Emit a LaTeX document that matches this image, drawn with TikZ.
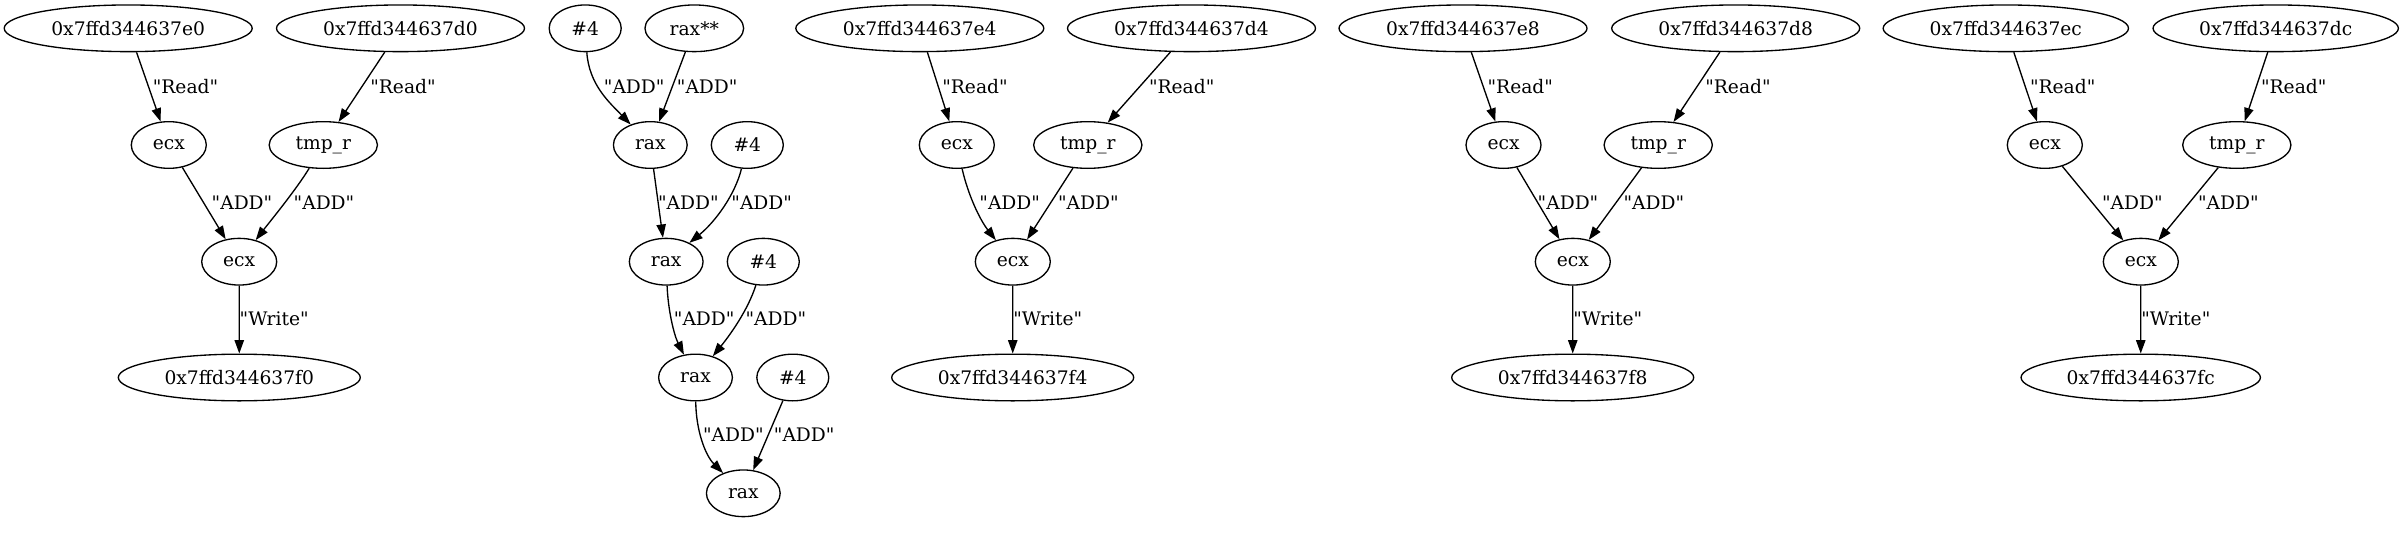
\documentclass[tikz,border=0pt]{standalone}
\usepackage{fontspec}
\setmainfont{DejaVu Serif}[Ligatures=TeXOff]
\usetikzlibrary{shapes.geometric,arrows.meta}
\begin{document}
\begin{tikzpicture}[x=0.75pt,y=-0.75pt,
  every node/.style={font=\fontsize{14pt}{16pt}\selectfont},
  nd/.style={draw,ellipse,inner sep=0pt,minimum height=35pt,line width=1pt},
  addr/.style={nd,minimum width=186pt},
  addrc/.style={nd,minimum width=184pt},
  outa/.style={nd,minimum width=181.5pt},
  outc/.style={nd,minimum width=179.5pt},
  ecxn/.style={nd,minimum width=56.25pt},
  raxn/.style={nd,minimum width=55.3pt},
  imm/.style={nd,minimum width=54pt},
  tmpn/.style={nd,minimum width=81.2pt},
  raxs/.style={nd,minimum width=74pt},
  conn/.style={line width=1pt,-{Triangle[length=10pt,width=7pt]}},
  lbl/.style={draw=none,inner sep=0pt}]
\useasboundingbox (0,0) rectangle (2404,535);
% ---- group 1
\node[addr] (a1) at (128.2,28.3) {0x7ffd344637e0};
\node[addr] (b1) at (400.5,28.3) {0x7ffd344637d0};
\node[ecxn] (e1) at (168.8,145) {ecx};
\node[tmpn] (t1) at (323.3,145) {tmp\_r};
\node[ecxn] (f1) at (239.2,261.7) {ecx};
\node[outa] (o1) at (239.3,377.5) {0x7ffd344637f0};
% ---- group 2
\node[imm] (h1) at (585.2,28.3) {\#4};
\node[raxs] (rs) at (694.3,28.3) {rax**};
\node[raxn] (r1) at (650.3,145) {rax};
\node[imm] (h2) at (747.3,145) {\#4};
\node[raxn] (r2) at (666.2,261.7) {rax};
\node[imm] (h3) at (763.3,261.7) {\#4};
\node[raxn] (r3) at (695.5,377.5) {rax};
\node[imm] (h4) at (792.8,377.5) {\#4};
\node[raxn] (r4) at (743.3,493.3) {rax};
% ---- group 3
\node[addr] (a2) at (919.8,28.3) {0x7ffd344637e4};
\node[addr] (b2) at (1191.5,28.3) {0x7ffd344637d4};
\node[ecxn] (e2) at (956.8,145) {ecx};
\node[tmpn] (t2) at (1087.8,145) {tmp\_r};
\node[ecxn] (f2) at (1012.8,261.7) {ecx};
\node[outa] (o2) at (1012.7,377.5) {0x7ffd344637f4};
% ---- group 4
\node[addr] (a3) at (1463,28.3) {0x7ffd344637e8};
\node[addr] (b3) at (1735.7,28.3) {0x7ffd344637d8};
\node[ecxn] (e3) at (1503.5,145) {ecx};
\node[tmpn] (t3) at (1658.2,145) {tmp\_r};
\node[ecxn] (f3) at (1572.8,261.7) {ecx};
\node[outa] (o3) at (1572.7,377.5) {0x7ffd344637f8};
% ---- group 5
\node[addrc] (a4) at (2005.8,28.3) {0x7ffd344637ec};
\node[addrc] (b4) at (2275.7,28.3) {0x7ffd344637dc};
\node[ecxn] (e4) at (2044.8,145) {ecx};
\node[tmpn] (t4) at (2236.8,145) {tmp\_r};
\node[ecxn] (f4) at (2140.8,261.7) {ecx};
\node[outc] (o4) at (2140.7,377.5) {0x7ffd344637fc};

% ---- edges group 1
\draw[conn] (a1) -- (e1) node[lbl] at (185.5,86.7) {"Read"};
\draw[conn] (b1) -- (t1) node[lbl] at (403,86.7) {"Read"};
\draw[conn] (e1) -- (f1) node[lbl] at (242,202.3) {"ADD"};
\draw[conn] (t1) .. controls (296,190) and (268,224) .. (f1) node[lbl] at (324,202.3) {"ADD"};
\draw[conn] (f1) -- (o1) node[lbl] at (274.2,319) {"Write"};
% ---- edges group 2
\draw[conn] (h1) .. controls (589,85) and (610,103) .. (r1) node[lbl] at (634.2,86.7) {"ADD"};
\draw[conn] (rs) -- (r1) node[lbl] at (707.2,86.7) {"ADD"};
\draw[conn] (r1) -- (r2) node[lbl] at (688.3,202.3) {"ADD"};
\draw[conn] (h2) .. controls (735,195) and (715,222) .. (r2) node[lbl] at (761.7,202.3) {"ADD"};
\draw[conn] (r2) .. controls (668,310) and (674,335) .. (r3) node[lbl] at (704.2,319) {"ADD"};
\draw[conn] (h3) .. controls (748,310) and (730,335) .. (r3) node[lbl] at (775.8,319) {"ADD"};
\draw[conn] (r3) .. controls (696,430) and (705,455) .. (r4) node[lbl] at (733.3,434.3) {"ADD"};
\draw[conn] (h4) -- (r4) node[lbl] at (804.2,434.3) {"ADD"};
% ---- edges group 3
\draw[conn] (a2) -- (e2) node[lbl] at (975,86.7) {"Read"};
\draw[conn] (b2) -- (t2) node[lbl] at (1181.7,86.7) {"Read"};
\draw[conn] (e2) .. controls (968,195) and (980,220) .. (f2) node[lbl] at (1009.7,202.3) {"ADD"};
\draw[conn] (t2) -- (f2) node[lbl] at (1088.3,202.3) {"ADD"};
\draw[conn] (f2) -- (o2) node[lbl] at (1047.8,319) {"Write"};
% ---- edges group 4
\draw[conn] (a3) -- (e3) node[lbl] at (1520.3,86.7) {"Read"};
\draw[conn] (b3) -- (t3) node[lbl] at (1738,86.7) {"Read"};
\draw[conn] (e3) -- (f3) node[lbl] at (1568,202.3) {"ADD"};
\draw[conn] (t3) -- (f3) node[lbl] at (1653.8,202.3) {"ADD"};
\draw[conn] (f3) -- (o3) node[lbl] at (1607.8,319) {"Write"};
% ---- edges group 5
\draw[conn] (a4) -- (e4) node[lbl] at (2062.7,86.7) {"Read"};
\draw[conn] (b4) -- (t4) node[lbl] at (2293.7,86.7) {"Read"};
\draw[conn] (e4) -- (f4) node[lbl] at (2132.3,202.3) {"ADD"};
\draw[conn] (t4) -- (f4) node[lbl] at (2228.3,202.3) {"ADD"};
\draw[conn] (f4) -- (o4) node[lbl] at (2175.8,319) {"Write"};
\end{tikzpicture}
\end{document}
